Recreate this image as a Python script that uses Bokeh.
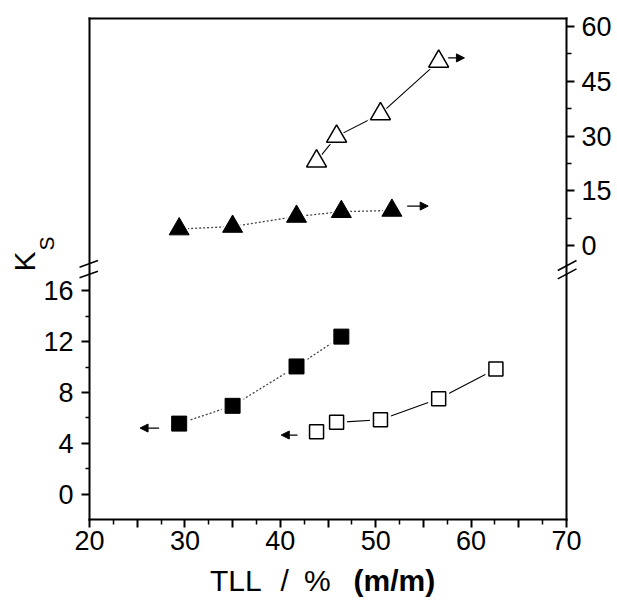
from bokeh.plotting import figure
from bokeh.models import Range1d, LinearAxis, FixedTicker, Arrow, NormalHead, Label
from bokeh.embed import file_html
from bokeh.resources import INLINE

# ---------------- data ----------------
tll_filled = [29.4, 35.0, 41.7, 46.4, 51.7]
ks_filled_sq = [5.55, 6.95, 10.05, 12.4]          # left (lower) axis
ks_filled_tri = [4.5, 5.2, 7.95, 9.25, 9.6]       # right (upper) axis
tll_open = [43.8, 45.9, 50.5, 56.6, 62.6]
ks_open_sq = [4.9, 5.65, 5.85, 7.5, 9.85]         # left (lower) axis
ks_open_tri = [23.1, 29.9, 36.05, 50.45]          # right (upper) axis

x_major = [20, 25, 30, 35, 40, 45, 50, 55, 60, 65, 70]
x_minor = [22.5, 27.5, 32.5, 37.5, 42.5, 47.5, 52.5, 57.5, 62.5, 67.5]
x_labels = {20: "20", 30: "30", 40: "40", 50: "50", 60: "60", 70: "70"}
left_major = [0, 4, 8, 12, 16]
left_minor = [2, 6, 10, 14]
right_major = [0, 15, 30, 45, 60]
right_minor = [7.5, 22.5, 37.5, 52.5]

# arrows (data units): x_start, x_end, y
arrow_fsq = (27.3, 25.3, 5.2)
arrow_osq = (41.8, 40.1, 4.65)
arrow_ftri = (53.3, 55.5, 10.8)
arrow_otri = (57.6, 59.3, 51.4)

# ---------------- geometry ----------------
W, H = 617, 602
BOX_L, BOX_R, BOX_T, BOX_B = 89, 566, 18, 519   # plot box in canvas pixels
X0, X1 = 20, 70
SX = (BOX_R - BOX_L) / (X1 - X0)   # px per x unit
L0 = -2.0                          # lower (left) scale value at box bottom
SL = 12.7                          # px per left unit
R_ZERO_PX = 245                    # pixel row of right-axis 0
SR = 3.65                          # px per right unit


def px_x(px):
    return X0 + (px - BOX_L) / SX


def px_l(py):
    return L0 + (BOX_B - py) / SL


def px_r(py):
    return (R_ZERO_PX - py) / SR


FONT = "Liberation Sans"

p = figure(width=W, height=H, output_backend="svg", toolbar_location=None,
           x_axis_type=None, y_axis_type=None,
           x_range=Range1d(px_x(0), px_x(W)), y_range=Range1d(px_l(H), px_l(0)),
           min_border=0, background_fill_color="white",
           border_fill_color="white")
p.extra_y_ranges = {"right": Range1d(px_r(H), px_r(0))}
p.grid.visible = False
p.outline_line_color = None


def style_axis(ax, maj_out=8, min_out=5, standoff=4):
    ax.axis_line_width = 2
    ax.axis_line_color = "black"
    ax.axis_line_cap = "square"
    ax.major_tick_line_width = 2
    ax.minor_tick_line_width = 1.5
    ax.major_tick_in = 0
    ax.minor_tick_in = 0
    ax.major_tick_out = maj_out
    ax.minor_tick_out = min_out
    ax.major_label_text_font = FONT
    ax.major_label_text_font_size = "27px"
    ax.major_label_text_color = "black"
    ax.major_label_standoff = standoff


top_val = px_l(BOX_T)
xa = LinearAxis(fixed_location=L0, bounds=(X0, X1),
                ticker=FixedTicker(ticks=x_major, minor_ticks=x_minor))
xa.major_label_overrides = {t: x_labels.get(t, "") for t in x_major}
style_axis(xa, 8, 5, 3)
p.add_layout(xa, "below")

ta = LinearAxis(fixed_location=top_val, bounds=(X0, X1),
                ticker=FixedTicker(ticks=[], minor_ticks=[]))
style_axis(ta, 0, 0, 0)
p.add_layout(ta, "above")

ya = LinearAxis(fixed_location=X0, bounds=(L0, top_val),
                ticker=FixedTicker(ticks=left_major, minor_ticks=left_minor))
style_axis(ya, 8, 4, 8)
p.add_layout(ya, "left")

ra = LinearAxis(y_range_name="right", fixed_location=X1,
                bounds=(px_r(BOX_B), px_r(BOX_T)),
                ticker=FixedTicker(ticks=right_major, minor_ticks=right_minor))
style_axis(ra, 8, 5, 7)
p.add_layout(ra, "right")

# y-axis title "K" with subscript "S" (vertical text via label-only axes)
for txt, size, x_px, y_mid in [("K", "30px", 40.0, 260.5), ("S", "21px", 57.0, 243.0)]:
    lab = LinearAxis(fixed_location=px_x(x_px),
                     bounds=(px_l(y_mid + 30), px_l(y_mid - 30)),
                     ticker=FixedTicker(ticks=[], minor_ticks=[]),
                     axis_line_color=None, major_tick_line_color=None,
                     minor_tick_line_color=None, axis_label=txt,
                     axis_label_text_font=FONT, axis_label_text_font_size=size,
                     axis_label_text_font_style="normal",
                     axis_label_text_color="black", axis_label_standoff=0)
    p.add_layout(lab, "left")

# ---------------- series ----------------
n_fsq = len(ks_filled_sq)
n_otri = len(ks_open_tri)

p.line(tll_filled[:n_fsq], ks_filled_sq, line_color="#444444", line_width=1.3,
       line_dash="2 2")
p.line(tll_filled, ks_filled_tri, line_color="#444444", line_width=1.3,
       line_dash="2 2", y_range_name="right")
p.line(tll_open, ks_open_sq, line_color="black", line_width=1.1)
p.line(tll_open[:n_otri], ks_open_tri, line_color="black", line_width=1.1,
       y_range_name="right")

# white halos (gaps between line and symbol)
p.scatter(tll_filled[:n_fsq], ks_filled_sq, marker="square", size=22,
          fill_color="white", line_color=None)
p.scatter(tll_open, ks_open_sq, marker="square", size=21,
          fill_color="white", line_color=None)
p.scatter(tll_filled, ks_filled_tri, marker="triangle", size=27,
          fill_color="white", line_color=None, y_range_name="right")
p.scatter(tll_open[:n_otri], ks_open_tri, marker="triangle", size=27,
          fill_color="white", line_color=None, y_range_name="right")

# symbols
p.scatter(tll_filled[:n_fsq], ks_filled_sq, marker="square", size=15,
          fill_color="black", line_color="black", line_width=1)
p.scatter(tll_open, ks_open_sq, marker="square", size=14,
          fill_color="white", line_color="black", line_width=1.5)
p.scatter(tll_filled, ks_filled_tri, marker="triangle", size=20,
          fill_color="black", line_color="black", line_width=1,
          y_range_name="right")
p.scatter(tll_open[:n_otri], ks_open_tri, marker="triangle", size=20,
          fill_color="white", line_color="black", line_width=1.5,
          y_range_name="right")

# direction arrows
for (xs, xe, yy), rng in [(arrow_fsq, "default"), (arrow_osq, "default"),
                          (arrow_ftri, "right"), (arrow_otri, "right")]:
    p.add_layout(Arrow(end=NormalHead(size=8, fill_color="black",
                                      line_color="black", line_width=1),
                       x_start=xs, y_start=yy, x_end=xe, y_end=yy,
                       line_width=1.2, line_color="black", y_range_name=rng))

# axis break marks (two short parallel slashes on each vertical spine)
brk_left = [((79.0, 277.3), (97.5, 270.7)), ((79.0, 266.7), (97.5, 260.0))]
brk_right = [((557.3, 278.3), (576.0, 268.3)), ((557.3, 270.0), (576.0, 260.0))]
for (a, b) in brk_left + brk_right:
    p.add_layout(Arrow(end=None, x_start=px_x(a[0]), y_start=px_l(a[1]),
                       x_end=px_x(b[0]), y_end=px_l(b[1]),
                       line_width=1.5, line_color="black"))

# ---------------- x-axis title ----------------
for txt, px, bold in [("TLL", 209.5, False), ("/", 280.0, False),
                      ("%", 303.5, False), ("(m/m)", 353.0, True)]:
    p.add_layout(Label(x=px_x(px), y=px_l(580), text=txt,
                       text_font=FONT, text_font_size="30px",
                       text_font_style="bold" if bold else "normal",
                       text_color="black", text_align="left",
                       text_baseline="middle"))

open("out.html", "w").write(file_html(p, INLINE))
